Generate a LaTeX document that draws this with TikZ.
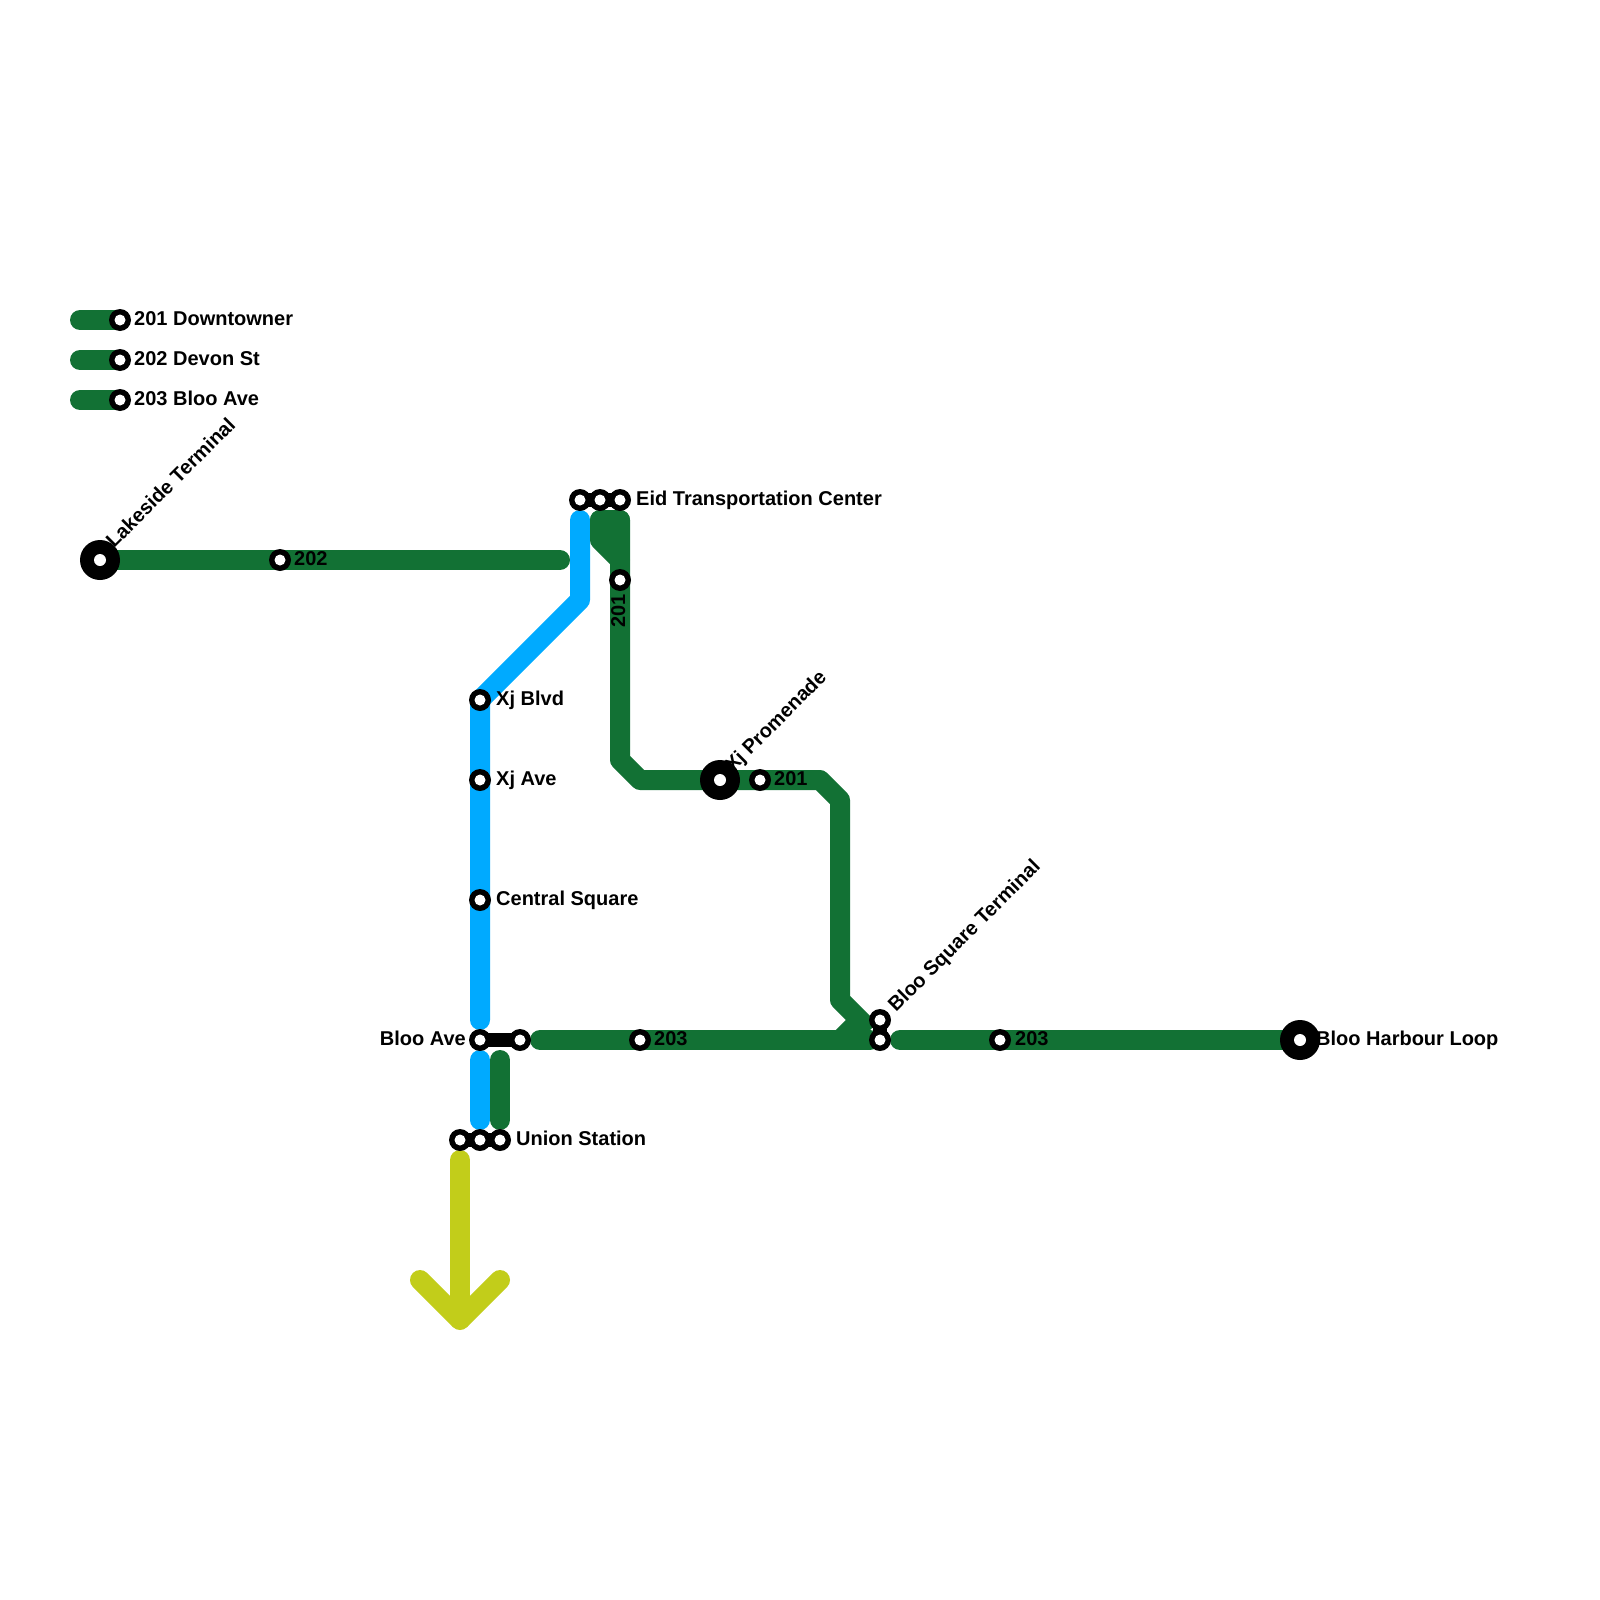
\documentclass[tikz,border=0pt]{standalone}
\usepackage{fontspec}
\setmainfont{Liberation Sans}
\definecolor{lgreen}{RGB}{18,113,52}
\definecolor{lblue}{RGB}{0,170,255}
\definecolor{lyellow}{RGB}{194,205,26}
\tikzset{
  route/.style={line width=20pt, line cap=round, line join=round},
  link/.style={line width=14pt, draw=black},
  lbl/.style={font=\fontsize{20}{24}\selectfont\bfseries, inner sep=0pt, anchor=base west},
  lble/.style={font=\fontsize{20}{24}\selectfont\bfseries, inner sep=0pt, anchor=base east},
}
\newcommand{\stn}[2]{%
  \fill[black] (#2) circle (11);
  \fill[white] (#2) circle (5.5);
  \coordinate (#1) at (#2);}
\newcommand{\term}[2]{%
  \fill[black] (#2) circle (20);
  \fill[white] (#2) circle (6);
  \coordinate (#1) at (#2);}
\begin{document}
\begin{tikzpicture}[x=1pt, y=-1pt]
\useasboundingbox (0,0) rectangle (1600,1600);
% coordinates
\coordinate (lg1) at (80,320);
\coordinate (lg2) at (80,360);
\coordinate (lg3) at (80,400);
\coordinate (lk) at (100,560);
\coordinate (r202end) at (560,560);
\coordinate (b1) at (580,520);
\coordinate (b2) at (580,600);
\coordinate (b3) at (480,700);
\coordinate (b4) at (480,1020);
\coordinate (b5) at (480,1060);
\coordinate (b6) at (480,1120);
\coordinate (g1) at (620,520);
\coordinate (g2) at (620,760);
\coordinate (g3) at (640,780);
\coordinate (g4) at (820,780);
\coordinate (g5) at (840,800);
\coordinate (g6) at (840,1000);
\coordinate (g7) at (870,1030);
\coordinate (h1) at (600,520);
\coordinate (h2) at (600,540);
\coordinate (h3) at (620,560);
\coordinate (u1) at (500,1060);
\coordinate (u2) at (500,1120);
\coordinate (t1) at (540,1040);
\coordinate (t2) at (840,1040);
\coordinate (t3) at (860,1020);
\coordinate (t5) at (870,1040);
\coordinate (t4) at (900,1040);
\coordinate (bh) at (1300,1040);
\coordinate (y1) at (460,1160);
\coordinate (y2) at (460,1320);
\coordinate (y3) at (420,1280);
\coordinate (y4) at (500,1280);

% legend lines
\draw[route, lgreen] (lg1) -- ++(40,0);
\draw[route, lgreen] (lg2) -- ++(40,0);
\draw[route, lgreen] (lg3) -- ++(40,0);

% routes
\draw[route, lgreen] (lk) -- (r202end);
\draw[route, lblue] (b1) -- (b2) -- (b3) -- (b4);
\draw[route, lblue] (b5) -- (b6);
\draw[route, lgreen] (h1) -- (h2) -- (h3);
\draw[route, lgreen] (h1) -- (g1);
\draw[route, lgreen, line cap=butt] (g1) -- (g2) -- (g3) -- (g4) -- (g5) -- (g6) -- (g7);
\draw[route, lgreen] (g1) -- ++(0,1);
\draw[route, lgreen] (u1) -- (u2);
\draw[route, lgreen] (t1) -- (t5);
\draw[route, lgreen, line cap=butt] (t2) -- (t3);
\draw[route, lgreen] (t4) -- (bh);
\draw[route, lyellow] (y1) -- (y2);
\draw[route, lyellow, line join=bevel] (y3) -- (y2) -- (y4);

% interchange links
\draw[link] (580,500) -- (620,500);
\draw[link] (480,1040) -- (520,1040);
\draw[link] (460,1140) -- (500,1140);
\draw[link] (880,1020) -- (880,1040);

% legend stations
\stn{L1}{120,320}
\stn{L2}{120,360}
\stn{L3}{120,400}
\node[lbl] (L1t) at (134,325.5) {201 Downtowner};
\node[lbl] (L2t) at (134,365.5) {202 Devon St};
\node[lbl] (L3t) at (134,405.5) {203 Bloo Ave};

% stations
\term{LT}{100,560}
\node[lbl, rotate=45] (LTt) at (114,549) {Lakeside Terminal};
\stn{S202}{280,560}
\node[lbl] (S202t) at (294,565.5) {202};

\stn{E1}{580,500}
\stn{E2}{600,500}
\stn{E3}{620,500}
\node[lbl] (Et) at (636,505.5) {Eid Transportation Center};

\stn{S201a}{620,580}
\node[lbl, rotate=90] (S201at) at (625,628) {201};

\stn{XB}{480,700}
\node[lbl] (XBt) at (496,705.5) {Xj Blvd};
\stn{XA}{480,780}
\node[lbl] (XAt) at (496,785.5) {Xj Ave};
\stn{CS}{480,900}
\node[lbl] (CSt) at (496,905.5) {Central Square};

\stn{BA1}{480,1040}
\stn{BA2}{520,1040}
\node[lble] (BAt) at (466,1045.5) {Bloo Ave};

\stn{US1}{460,1140}
\stn{US2}{480,1140}
\stn{US3}{500,1140}
\node[lbl] (USt) at (516,1145.5) {Union Station};

\term{XP}{720,780}
\node[lbl, rotate=45] (XPt) at (733,773) {Xj Promenade};
\stn{S201b}{760,780}
\node[lbl] (S201bt) at (774,785.5) {201};

\stn{S203a}{640,1040}
\node[lbl] (S203at) at (654,1045.5) {203};

\stn{BS1}{880,1020}
\stn{BS2}{880,1040}
\node[lbl, rotate=45] (BSt) at (896,1013) {Bloo Square Terminal};

\stn{S203b}{1000,1040}
\node[lbl] (S203bt) at (1015,1045.5) {203};

\term{BH}{1300,1040}
\node[lbl] (BHt) at (1316,1045.5) {Bloo Harbour Loop};
\end{tikzpicture}
\end{document}
